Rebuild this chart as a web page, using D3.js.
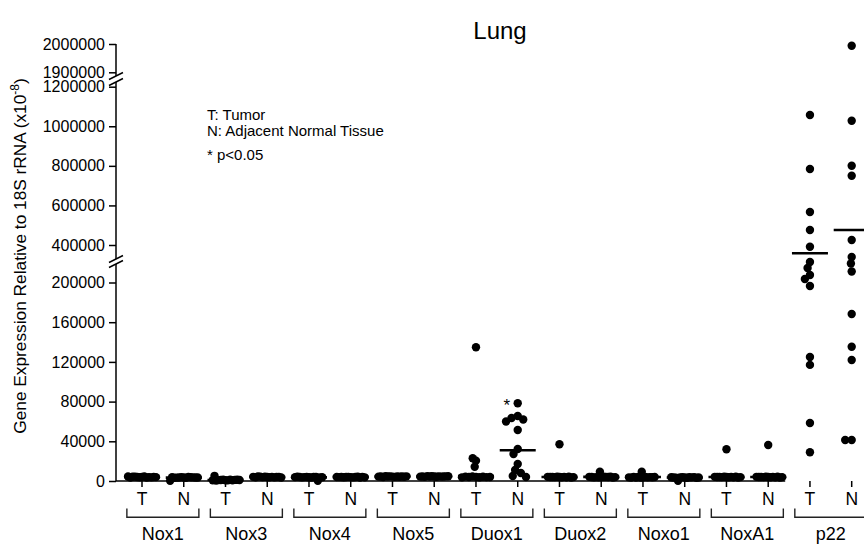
<!DOCTYPE html>
<html>
<head>
<meta charset="utf-8">
<script src="https://cdn.jsdelivr.net/npm/d3@7"></script>
<style>
  body { margin: 0; background: #fff; }
  svg text { font-family: "Liberation Sans", Arial, Helvetica, sans-serif; fill: #000; }
</style>
</head>
<body>
<svg id="chart" width="864" height="545"></svg>
<script>
// genes along the x axis, each with a tumour and a normal column
const genes = ["Nox1", "Nox3", "Nox4", "Nox5", "Duox1", "Duox2", "Noxo1", "NoxA1", "p22"];
const tissues = ["T", "N"];

// expression values (x10^-8)
const nox1_T  = [4200, 3800, 4500, 3600, 4100, 3900, 4400, 3700, 4300, 4000, 3500, 4600, 3900];
const nox1_N  = [3600, 3900, 3300, 4000, 3500, 3800, 3400, 3700, 3200, 3900, 3600, 300, 3500];
const nox3_T  = [800, 1200, 600, 1000, 1400, 700, 900, 1100, 500, 5200, 1300, 800, 1000];
const nox3_N  = [4000, 4300, 3800, 4200, 3900, 4400, 3700, 4100, 4500, 3800, 4000, 4200, 3600];
const nox4_T  = [3800, 4100, 3600, 4000, 3900, 4200, 3700, 200, 4000, 3500, 4300, 3800, 3900];
const nox4_N  = [3900, 4200, 3700, 4000, 4100, 3800, 4300, 3600, 4000, 4200, 3900, 3700, 4100];
const nox5_T  = [4400, 4700, 4200, 4600, 4500, 4300, 4800, 4100, 4500, 4600, 4300, 4400, 4700];
const nox5_N  = [4500, 4800, 4300, 4600, 4700, 4400, 4900, 4200, 4600, 4500, 4700, 4400, 4800];
const duox1_T = [4200, 134700, 20500, 22900, 14400, 4500, 3800, 4000, 4300, 3900, 4400, 3700, 4100];
const duox1_N = [78300, 65500, 63500, 62000, 60000, 51400, 32200, 27200, 17100, 11100, 8000, 5000, 4000];
const duox2_T = [4000, 37000, 4300, 3800, 4200, 3900, 4100, 3700, 4400, 4000, 3600, 4200, 3900];
const duox2_N = [4000, 9400, 4300, 3800, 4200, 3900, 4100, 3700, 4400, 4000, 3600, 4200, 3900];
const noxo1_T = [3800, 9400, 4100, 3600, 4000, 3700, 3900, 3500, 4200, 3800, 3400, 4000, 3700];
const noxo1_N = [3600, 3900, 3300, 3800, 3500, 3700, 200, 3400, 3900, 3600, 3200, 3800, 3500];
const noxa1_T = [4000, 32000, 4300, 3800, 4200, 3900, 4100, 3700, 4400, 4000, 3600, 4200, 3900];
const noxa1_N = [4000, 36300, 4300, 3800, 4200, 3900, 4100, 3700, 4400, 4000, 3600, 4200, 3900];
const p22_T   = [1057000, 784000, 566700, 475800, 391000, 220700, 214600, 207600, 203500, 196500, 125000, 117000, 58500, 29000];
const p22_N   = [1994000, 1028000, 800700, 750000, 425000, 225700, 219200, 211100, 168300, 135300, 121900, 41300, 41300];

// horizontal mean bars, one per column (T, N, T, N ...)
const meanLines = [4000, 3400, 1000, 4000, 3700, 4000, 4500, 4600, 5000, 31000,
                   4000, 4200, 4000, 3500, 4000, 4000, 358000, 476000];

const yTicksTop = [1900000, 2000000];
const yTicksMid = [400000, 600000, 800000, 1000000, 1200000];
const yTicksLow = [0, 40000, 80000, 120000, 160000, 200000];
const legendLines = ["T: Tumor", "N: Adjacent Normal Tissue", "* p<0.05"];
const significant = ["Duox1 N"];

const seriesByGene = [
  [nox1_T, nox1_N], [nox3_T, nox3_N], [nox4_T, nox4_N], [nox5_T, nox5_N],
  [duox1_T, duox1_N], [duox2_T, duox2_N], [noxo1_T, noxo1_N], [noxa1_T, noxa1_N], [p22_T, p22_N]
];

// one entry per column
const columns = [];
genes.forEach((g, gi) => tissues.forEach((t, ti) => {
  columns.push({ key: g + " " + t, gene: g, tissue: t, values: seriesByGene[gi][ti], mean: meanLines[columns.length] });
}));

const svg = d3.select("#chart");
const axisX = 116, baseY = 481;

// broken y axis: three linear pieces
const yTop = d3.scaleLinear().domain([1900000, 2000000]).range([72.3, 44]);
const yMid = d3.scaleLinear().domain([400000, 1200000]).range([245, 86.7]);
const yLow = d3.scaleLinear().domain([0, 200000]).range([baseY, 282.5]);
function y(v) { return v >= 1500000 ? yTop(v) : v >= 300000 ? yMid(v) : yLow(v); }

const x = d3.scalePoint().domain(columns.map(c => c.key)).range([142, 851.7]);

// title
svg.append("text").attr("x", 500).attr("y", 39).attr("text-anchor", "middle")
  .style("font-size", "24px").text("Lung");

// y axis pieces
function yAxisPiece(scale, ticks, y0, y1) {
  const g = svg.append("g").attr("transform", "translate(" + axisX + ",0)")
    .call(d3.axisLeft(scale).tickValues(ticks).tickSize(7).tickPadding(4).tickFormat(d3.format("d")));
  g.select(".domain").remove();
  g.selectAll(".tick line").attr("stroke", "#000").attr("stroke-width", 1.5);
  g.selectAll(".tick text").style("font-size", "16px").style("font-family", "\"Liberation Sans\", Arial, sans-serif");
  g.append("line").attr("x1", 0).attr("x2", 0).attr("y1", y0).attr("y2", y1)
    .attr("stroke", "#000").attr("stroke-width", 1.5);
}
yAxisPiece(yTop, yTicksTop, yTop(2000000), 76);
yAxisPiece(yMid, yTicksMid, 82, 259);
yAxisPiece(yLow, yTicksLow, 264, baseY);

// break marks
[76, 82, 259, 264].forEach(by => {
  svg.append("line").attr("x1", axisX - 7).attr("y1", by + 3.5).attr("x2", axisX + 7).attr("y2", by - 3.5)
    .attr("stroke", "#000").attr("stroke-width", 1.5);
});

// y axis title
const yTitle = svg.append("text")
  .attr("transform", "translate(26,256) rotate(-90)")
  .attr("text-anchor", "middle").style("font-size", "17.3px");
yTitle.append("tspan").text("Gene Expression Relative to 18S rRNA (x10");
yTitle.append("tspan").attr("dy", -7).style("font-size", "12px").text("-8");
yTitle.append("tspan").attr("dy", 7).text(")");

// x axis baseline (stops before p22, as in the figure)
svg.append("line").attr("x1", axisX).attr("x2", x("NoxA1 N") + 17).attr("y1", baseY).attr("y2", baseY)
  .attr("stroke", "#000").attr("stroke-width", 1.5);

// column ticks + T/N labels
const colG = svg.append("g").selectAll("g").data(columns).join("g")
  .attr("transform", d => "translate(" + x(d.key) + ",0)");
colG.append("line").attr("y1", baseY).attr("y2", baseY + 6).attr("stroke", "#000").attr("stroke-width", 1.5);
colG.append("text").attr("y", 505).attr("text-anchor", "middle").style("font-size", "17.5px").text(d => d.tissue);

// gene brackets
const geneG = svg.append("g").selectAll("g").data(genes).join("g")
  .attr("transform", g => "translate(" + (x(g + " T") + x(g + " N")) / 2 + ",0)");
geneG.append("path").attr("d", "M-36,508.5V517.3H36V508.5")
  .attr("fill", "none").attr("stroke", "#222").attr("stroke-width", 1.4);
geneG.append("text").attr("y", 540).attr("text-anchor", "middle").style("font-size", "18px").text(g => g);

// beeswarm offsets for overlapping dots
function swarm(values, D, maxOff) {
  const pts = values.map(v => ({ v: v, py: y(v), dx: 0 }));
  const placed = [];
  pts.forEach(p => {
    const blocked = placed.filter(q => Math.abs(q.py - p.py) < D).map(q => {
      const w = Math.sqrt(D * D - (q.py - p.py) * (q.py - p.py));
      return [q.dx - w, q.dx + w];
    });
    const cands = [0].concat(...blocked).sort((a, b) => Math.abs(a) - Math.abs(b));
    p.dx = cands.find(c => blocked.every(b => c <= b[0] + 1e-6 || c >= b[1] - 1e-6));
    placed.push(p);
  });
  const m = d3.max(pts, p => Math.abs(p.dx));
  if (m > maxOff) pts.forEach(p => { p.dx *= maxOff / m; });
  return pts;
}

// mean bars
svg.append("g").selectAll("line").data(columns).join("line")
  .attr("x1", d => x(d.key) - 18).attr("x2", d => x(d.key) + 18)
  .attr("y1", d => y(d.mean)).attr("y2", d => y(d.mean))
  .attr("stroke", "#000").attr("stroke-width", 2.6);

// dots
columns.forEach(c => {
  const pts = swarm(c.values, 6.5, 14);
  svg.append("g").selectAll("circle").data(pts).join("circle")
    .attr("cx", p => x(c.key) + p.dx).attr("cy", p => p.py).attr("r", 4.2).attr("fill", "#000");
});

// significance star
significant.forEach(k => {
  const c = columns.find(d => d.key === k);
  svg.append("text").attr("x", x(k) - 11).attr("y", y(d3.max(c.values)) + 8)
    .attr("text-anchor", "middle").style("font-size", "17px").text("*");
});

// legend
svg.append("g").selectAll("text").data(legendLines).join("text")
  .attr("x", 207).attr("y", (d, i) => [119.5, 135.5, 160][i]).style("font-size", "15px").text(d => d);
</script>
</body>
</html>
